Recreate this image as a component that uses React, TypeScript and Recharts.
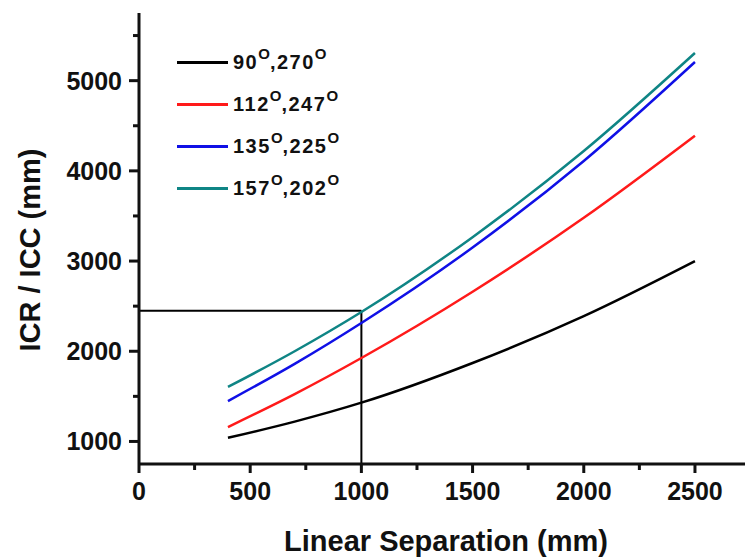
import { LineChart, Line, XAxis, YAxis, ReferenceLine } from 'recharts'

// 선간 거리 (mm)
const separation = [400, 700, 1000, 1500, 2000, 2500]
// ICR / ICC (mm) per angle pair
const icr90 = [1040, 1220, 1430, 1870, 2390, 3000]
const icr112 = [1160, 1525, 1925, 2660, 3480, 4390]
const icr135 = [1448, 1860, 2313, 3150, 4110, 5207]
const icr157 = [1604, 2000, 2435, 3265, 4220, 5307]

const xTicks = [0, 250, 500, 750, 1000, 1250, 1500, 1750, 2000, 2250, 2500]
const yTicks = [1000, 1500, 2000, 2500, 3000, 3500, 4000, 4500, 5000, 5500]

const seriesInfo = [
  { key: 'a', first: '90', second: '270', color: '#000000' },
  { key: 'b', first: '112', second: '247', color: '#ff1a1a' },
  { key: 'c', first: '135', second: '225', color: '#1010e6' },
  { key: 'd', first: '157', second: '202', color: '#0f8585' },
]

const data = separation.map((x, i) => ({
  x,
  a: icr90[i],
  b: icr112[i],
  c: icr135[i],
  d: icr157[i],
}))

const FONT = 'Arial, "Liberation Sans", sans-serif'
const INK = '#111111'

const XTick = ({ x, y, payload }: any) => {
  const major = payload.value % 500 === 0
  return (
    <g>
      <line x1={x} x2={x} y1={y} y2={y + (major ? 9 : 6)} stroke={INK} strokeWidth={3} />
      {major && (
        <text x={x} y={y + 36} textAnchor="middle" fontFamily={FONT} fontWeight="bold" fontSize={25} fill={INK}>
          {payload.value}
        </text>
      )}
    </g>
  )
}

const YTick = ({ x, y, payload }: any) => {
  const major = payload.value % 1000 === 0
  return (
    <g>
      <line x1={x} x2={x - (major ? 10 : 6)} y1={y} y2={y} stroke={INK} strokeWidth={3} />
      {major && (
        <text x={x - 17} y={y + 9} textAnchor="end" fontFamily={FONT} fontWeight="bold" fontSize={25} fill={INK}>
          {payload.value}
        </text>
      )}
    </g>
  )
}

const supStyle = { fontSize: 15, position: 'relative' as const, top: -10, letterSpacing: 0 }

// 범례 (차트 위에 고정 배치)
const LegendBox = () => (
  <div style={{ position: 'absolute', top: 41, left: 177 }}>
    {seriesInfo.map((s) => (
      <div key={s.key} style={{ display: 'flex', alignItems: 'center', height: 42 }}>
        <div style={{ width: 51, height: 3, background: s.color }} />
        <span
          style={{
            marginLeft: 5,
            fontFamily: FONT,
            fontWeight: 'bold',
            fontSize: 20,
            letterSpacing: 1.5,
            color: INK,
            whiteSpace: 'nowrap',
          }}
        >
          {s.first}
          <span style={supStyle}>O</span>,{s.second}
          <span style={supStyle}>O</span>
        </span>
      </div>
    ))}
  </div>
)

export default function App() {
  return (
    <div style={{ position: 'absolute', left: 0, top: 0, width: 745, height: 559, background: '#fff' }}>
      <LineChart width={745} height={559} data={data} margin={{ top: 13, right: 0, left: 0, bottom: 0 }}>
        <XAxis
          type="number"
          dataKey="x"
          domain={[0, 2725]}
          ticks={xTicks}
          interval={0}
          height={95}
          tickSize={0}
          tickMargin={0}
          tickLine={false}
          tick={<XTick />}
          axisLine={{ stroke: INK, strokeWidth: 3 }}
          label={{
            content: () => (
              <text x={446} y={551} textAnchor="middle" fontFamily={FONT} fontWeight="bold" fontSize={29} fill={INK}>
                Linear Separation (mm)
              </text>
            ),
          }}
        />
        <YAxis
          type="number"
          domain={[750, 5750]}
          ticks={yTicks}
          interval={0}
          width={139}
          tickSize={0}
          tickMargin={0}
          tickLine={false}
          tick={<YTick />}
          axisLine={{ stroke: INK, strokeWidth: 3 }}
          label={{
            content: () => (
              <text
                x={40}
                y={250}
                textAnchor="middle"
                transform="rotate(-90, 40, 250)"
                fontFamily={FONT}
                fontWeight="bold"
                fontSize={29}
                fill={INK}
              >
                ICR / ICC (mm)
              </text>
            ),
          }}
        />
        <ReferenceLine
          segment={[
            { x: 0, y: 2450 },
            { x: 1000, y: 2450 },
          ]}
          stroke="#000"
          strokeWidth={2}
        />
        <ReferenceLine
          segment={[
            { x: 1000, y: 750 },
            { x: 1000, y: 2450 },
          ]}
          stroke="#000"
          strokeWidth={2}
        />
        {seriesInfo.map((s) => (
          <Line
            key={s.key}
            type="monotone"
            dataKey={s.key}
            stroke={s.color}
            strokeWidth={2.5}
            dot={false}
            isAnimationActive={false}
          />
        ))}
      </LineChart>
      <LegendBox />
    </div>
  )
}
